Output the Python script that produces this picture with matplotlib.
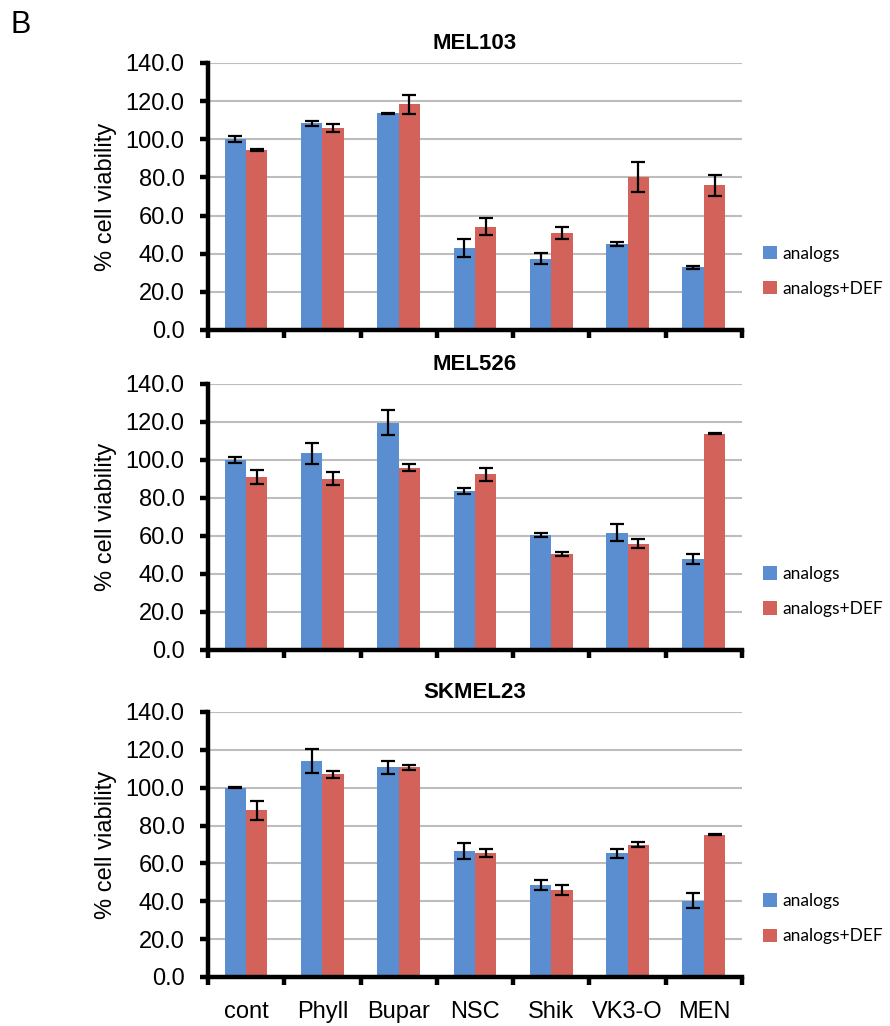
import numpy as np
import matplotlib.pyplot as plt

categories = ["cont", "Phyll", "Bupar", "NSC", "Shik", "VK3-O", "MEN"]
panels = ["MEL103", "MEL526", "SKMEL23"]

# mean % viability (analogs, analogs+DEF) and error bars
mel103_a = [100.0, 108.3, 113.6, 43.0, 37.4, 45.1, 32.8]
mel103_a_err = [1.5, 1.2, 0.4, 4.5, 2.8, 1.2, 1.0]
mel103_d = [94.4, 105.9, 118.3, 54.2, 50.9, 80.2, 75.8]
mel103_d_err = [0.4, 2.0, 5.0, 4.5, 3.3, 7.8, 5.6]

mel526_a = [100.0, 103.5, 119.6, 83.6, 60.4, 61.8, 47.9]
mel526_a_err = [1.5, 5.4, 6.7, 1.7, 1.0, 4.7, 2.5]
mel526_d = [91.0, 90.1, 96.0, 92.4, 50.4, 55.9, 113.7]
mel526_d_err = [3.8, 3.3, 2.0, 3.5, 1.0, 2.5, 0.3]

skmel23_a = [100.0, 114.2, 110.7, 66.6, 48.5, 65.3, 40.2]
skmel23_a_err = [0.4, 6.2, 3.4, 4.2, 2.6, 2.4, 4.0]
skmel23_d = [88.0, 107.0, 110.7, 65.5, 46.0, 69.8, 75.2]
skmel23_d_err = [4.9, 1.7, 1.3, 2.1, 2.5, 1.4, 0.4]

series = [
    (mel103_a, mel103_a_err, mel103_d, mel103_d_err),
    (mel526_a, mel526_a_err, mel526_d, mel526_d_err),
    (skmel23_a, skmel23_a_err, skmel23_d, skmel23_d_err),
]

blue = "#5A8ED0"
red = "#D3625B"

plt.rcParams['font.family'] = ['Liberation Sans', 'DejaVu Sans']

fig = plt.figure(figsize=(8.9, 10.26), dpi=100)
boxes = [
    (0.2337, 0.6784, 0.600, 0.2602),
    (0.2337, 0.3665, 0.600, 0.2593),
    (0.2337, 0.0478, 0.600, 0.2583),
]

x = np.arange(len(categories))
w = 0.28

for i, (box, name, (a, ae, d, de)) in enumerate(zip(boxes, panels, series)):
    ax = fig.add_axes(box)
    ax.bar(x - w / 2, a, w, color=blue, label="analogs", zorder=2)
    ax.bar(x + w / 2, d, w, color=red, label="analogs+DEF", zorder=2)
    ax.errorbar(x - w / 2, a, yerr=ae, fmt="none", ecolor="black",
                elinewidth=1.6, capsize=5, capthick=1.6, zorder=3)
    ax.errorbar(x + w / 2, d, yerr=de, fmt="none", ecolor="black",
                elinewidth=1.6, capsize=5, capthick=1.6, zorder=3)

    ax.set_xlim(-0.5, len(categories) - 0.5)
    ax.set_ylim(0, 140)
    ax.set_yticks(np.arange(0, 141, 20))
    ax.set_yticklabels([f"{v:.1f}" for v in np.arange(0, 141, 20)])
    ax.yaxis.grid(True, color="#BDBDBD", linewidth=1.5, zorder=0)
    ax.set_axisbelow(True)

    for s in ["top", "right"]:
        ax.spines[s].set_visible(False)
    for s in ["left", "bottom"]:
        ax.spines[s].set_linewidth(3.2)
        ax.spines[s].set_zorder(4)

    ax.set_xticks(np.arange(-0.5, len(categories)), minor=True)
    ax.set_xticks(x)
    if i == 2:
        ax.set_xticklabels(categories, fontsize=17)
    else:
        ax.set_xticklabels([])
    ax.tick_params(axis="x", which="major", length=0, pad=17)
    ax.tick_params(axis="x", which="minor", length=6, width=3.2, direction="out")
    ax.tick_params(axis="y", length=6, width=3.2, direction="out",
                   labelsize=17, pad=11)

    ax.set_ylabel("% cell viability", fontsize=17, labelpad=6)
    ax.set_title(name, fontsize=16, fontweight="bold", pad=10)

    ax.legend(loc="center left", bbox_to_anchor=(1.04, 0.22), frameon=False,
              prop={"family": "Lato", "size": 12.5}, handlelength=0.8,
              handleheight=0.8, handletextpad=0.3, labelspacing=1.1,
              borderpad=0, borderaxespad=0)

fig.text(0.012, 0.976, "B", fontsize=22, va="center", ha="left")

fig.savefig("out.png", dpi=100)
